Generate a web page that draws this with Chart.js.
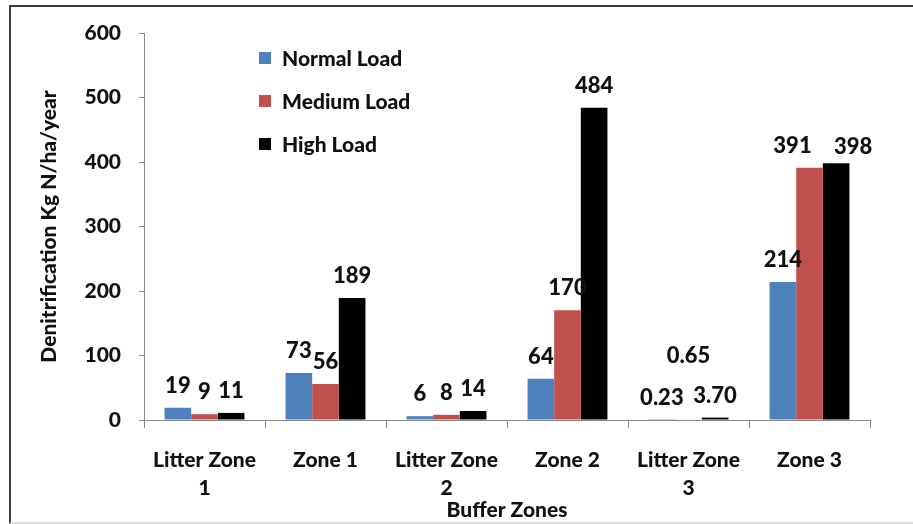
<!DOCTYPE html>
<html>
<head>
<meta charset="utf-8">
<script src="https://cdn.jsdelivr.net/npm/chart.js@4.4.1/dist/chart.umd.min.js"></script>
<style>
  html, body { margin: 0; padding: 0; background: #fff; }
  #wrap { position: relative; width: 913px; height: 524px; overflow: hidden; }
  #frame {
    position: absolute; left: 9px; top: 5px; width: 1000px; height: 515px;
    border-top: 2px solid #3c3c3c; border-left: 2px solid #3c3c3c;
    border-bottom: 2px solid #dedede; pointer-events: none;
  }
  #legend {
    position: absolute; left: 259px; top: 36px;
    font: 900 21px Lato, "Liberation Sans", sans-serif; color: #111;
  }
  .row { display: flex; align-items: center; height: 43px; }
  .swatch { width: 12px; height: 12px; margin-right: 11px; }
</style>
</head>
<body>
<div id="wrap">
  <canvas id="chart" width="913" height="524"></canvas>
  <div id="frame"></div>
  <div id="legend"></div>
</div>
<script>
// Buffer zone categories (multi-line labels)
const categories = [['Litter Zone', '1'], 'Zone 1', ['Litter Zone', '2'], 'Zone 2', ['Litter Zone', '3'], 'Zone 3'];

// Denitrification (Kg N/ha/year) per nitrogen load
const normalLoad = [19, 73, 6, 64, 0.23, 214];
const mediumLoad = [9, 56, 8, 170, 0.65, 391];
const highLoad   = [11, 189, 14, 484, 3.70, 398];

const seriesNames = ['Normal Load', 'Medium Load', 'High Load'];
const yTickValues = [0, 100, 200, 300, 400, 500, 600];

const FONT = 'Lato, "Liberation Sans", sans-serif';
const WEIGHT = 900;
const TEXT = '#111';
const AXIS = '#8a8a8a';

// nudges for value labels that would otherwise collide
const labelNudge = {
  '1:4': { dx: 0, dy: -42 },
  '1:5': { dx: -17, dy: 0 },
  '2:5': { dx: 17, dy: 6 }
};

function fmt(v) {
  return Number.isInteger(v) ? String(v) : v.toFixed(2);
}

const valueLabels = {
  id: 'valueLabels',
  afterDatasetsDraw(chart) {
    const ctx = chart.ctx;
    ctx.save();
    ctx.font = WEIGHT + ' 22px ' + FONT;
    ctx.fillStyle = TEXT;
    ctx.textAlign = 'center';
    ctx.textBaseline = 'middle';
    chart.data.datasets.forEach((ds, di) => {
      chart.getDatasetMeta(di).data.forEach((bar, i) => {
        const n = labelNudge[di + ':' + i] || { dx: 0, dy: 0 };
        ctx.fillText(fmt(ds.data[i]), bar.x + n.dx, bar.y - 22 + n.dy);
      });
    });
    ctx.restore();
  }
};

const chart = new Chart(document.getElementById('chart'), {
  type: 'bar',
  data: {
    labels: categories,
    datasets: [
      { label: seriesNames[0], data: normalLoad, backgroundColor: '#4F81BD' },
      { label: seriesNames[1], data: mediumLoad, backgroundColor: '#C0504D' },
      { label: seriesNames[2], data: highLoad,   backgroundColor: '#000000' }
    ]
  },
  options: {
    responsive: false,
    animation: false,
    layout: { padding: { top: 33, right: 43, bottom: 0, left: 0 } },
    datasets: { bar: { categoryPercentage: 0.66, barPercentage: 1.0, borderWidth: 0 } },
    plugins: { legend: { display: false }, tooltip: { enabled: false } },
    scales: {
      x: {
        grid: { drawOnChartArea: false, tickLength: 8, color: AXIS, offset: true },
        border: { color: AXIS, width: 1 },
        ticks: { color: TEXT, font: { family: FONT, size: 21, weight: WEIGHT, lineHeight: 1.35 }, padding: 18, maxRotation: 0, autoSkip: false },
        title: { display: true, text: 'Buffer Zones', color: TEXT, font: { family: FONT, size: 21, weight: WEIGHT, lineHeight: 1.1 }, padding: { top: 0, bottom: 2 } },
        afterFit(scale) { scale.height = 104; }
      },
      y: {
        min: 0, max: 600,
        afterBuildTicks(scale) { scale.ticks = yTickValues.map(v => ({ value: v })); },
        grid: { drawOnChartArea: false, tickLength: 5, color: AXIS },
        border: { color: AXIS, width: 1 },
        ticks: { color: TEXT, font: { family: FONT, size: 21, weight: WEIGHT }, padding: 18 },
        title: { display: true, text: 'Denitrification Kg N/ha/year', color: TEXT, font: { family: FONT, size: 21, weight: WEIGHT, lineHeight: 1.1 }, padding: { top: 38, bottom: 0 } },
        afterFit(scale) { scale.width = 144; }
      }
    }
  },
  plugins: [valueLabels]
});

// legend drawn as HTML inside the plot area
const legend = document.getElementById('legend');
chart.data.datasets.forEach(ds => {
  const row = document.createElement('div');
  row.className = 'row';
  const sw = document.createElement('span');
  sw.className = 'swatch';
  sw.style.background = ds.backgroundColor;
  const tx = document.createElement('span');
  tx.textContent = ds.label;
  row.appendChild(sw);
  row.appendChild(tx);
  legend.appendChild(row);
});
</script>
</body>
</html>
